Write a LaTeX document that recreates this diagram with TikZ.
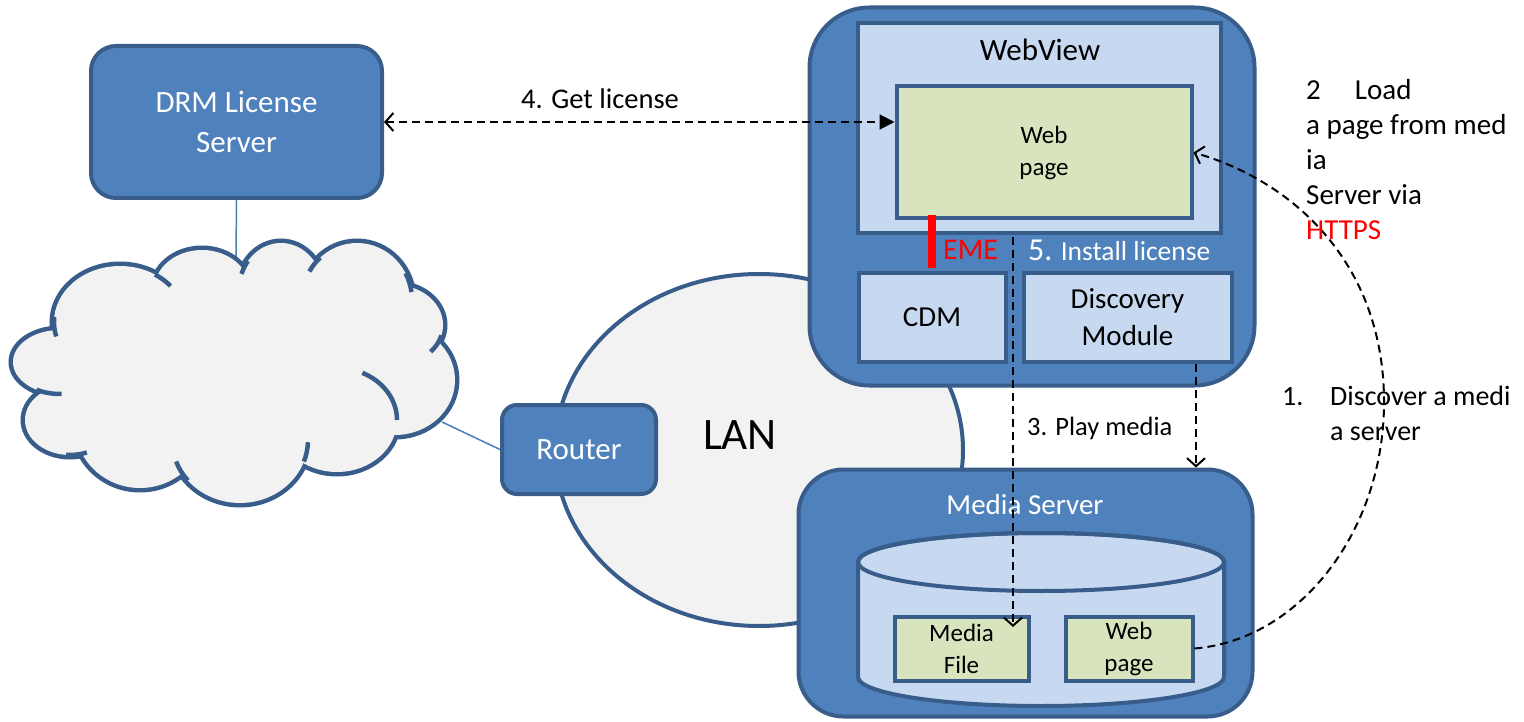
\documentclass[tikz,border=0pt]{standalone}
\usepackage{fontspec}
\setmainfont{Carlito}
\usetikzlibrary{arrows.meta,shapes.geometric}
\definecolor{bluefill}{HTML}{4F81BD}
\definecolor{blueline}{HTML}{385D8A}
\definecolor{lightfill}{HTML}{C6D9F1}
\definecolor{greenfill}{HTML}{D7E4BD}
\definecolor{cloudfill}{HTML}{F2F2F2}
\definecolor{thinblue}{HTML}{4A7EBB}
\newcommand\cloudtail[6]{\draw[blueline, line width=4.5pt] (#1,#2) ++(#5:#3 and #4) arc[start angle=#5, end angle=#6, x radius=#3, y radius=#4];}
\begin{document}
\begin{tikzpicture}[x=1pt,y=-1pt,
  box/.style={draw=blueline, line width=4pt, fill=bluefill, rounded corners=#1, text=white, inner sep=2pt},
  box/.default=20pt,
  lightbox/.style={draw=blueline, line width=4pt, fill=lightfill, inner sep=2pt},
  greenbox/.style={draw=blueline, line width=4pt, fill=greenfill, inner sep=2pt},
  dashline/.style={draw=black, line width=2pt, dash pattern=on 8pt off 5pt},
  thinline/.style={draw=thinblue, line width=1.5pt},
  openarrow/.tip={Straight Barb[length=8pt,width=18pt,line width=2pt]},
  fullarrow/.tip={Triangle[length=15pt,width=15pt]}
]
\useasboundingbox (0,0) rectangle (1524,722);

% DRM license server
\node[box=25pt, minimum width=291pt, minimum height=152pt, align=center, font=\fontsize{31}{40}\selectfont] (drm) at (236.5,122) {DRM License\\Server};
\coordinate (cloudtop) at (236,258);
\draw[thinline] (drm.south) -- (cloudtop);

% cloud
\foreach \cx/\cy/\rx/\ry in {60/362/47/32, 120/322/66/56, 202/290/48/40, 281/290/42/47, 357/300/55/57, 395/325/48/40, 395/380/60/55, 337/420/60/52, 240/440/68/63, 140/425/65/63, 70/420/45/35}
  \draw[blueline, line width=9pt] (\cx,\cy) ellipse [x radius=\rx, y radius=\ry];
\foreach \cx/\cy/\rx/\ry in {60/362/47/32, 120/322/66/56, 202/290/48/40, 281/290/42/47, 357/300/55/57, 395/325/48/40, 395/380/60/55, 337/420/60/52, 240/440/68/63, 140/425/65/63, 70/420/45/35}
  \fill[cloudfill] (\cx,\cy) ellipse [x radius=\rx, y radius=\ry];
\fill[cloudfill] (235,370) ellipse [x radius=180, y radius=100];
\cloudtail{60}{362}{47}{32}{120}{88}
\cloudtail{120}{322}{66}{56}{165}{185}
\cloudtail{120}{322}{66}{56}{-58}{-40}
\cloudtail{281}{290}{42}{47}{218}{200}
\cloudtail{357}{300}{55}{57}{228}{210}
\cloudtail{357}{300}{55}{57}{-28}{-8}
\cloudtail{395}{325}{48}{40}{15}{42}
\cloudtail{337}{420}{60}{52}{-65}{0}
\cloudtail{240}{440}{68}{63}{20}{2}
\cloudtail{240}{440}{68}{63}{140}{160}
\cloudtail{70}{420}{45}{35}{95}{68}

% LAN
\node[ellipse, draw=blueline, line width=4pt, fill=cloudfill, minimum width=408pt, minimum height=352pt] (lan) at (759,450) {};
\node[font=\fontsize{45}{54}\selectfont] (lanlabel) at (740,435) {LAN};

% router
\node[box=15pt, minimum width=154pt, minimum height=89pt, font=\fontsize{31}{37}\selectfont] (router) at (579,449.5) {Router};
\coordinate (cloudright) at (442,422);
\draw[thinline] (cloudright) -- (router.west);

% WebView
\node[box=60pt, minimum width=445pt, minimum height=378pt] (wv) at (1032,196.5) {};
\node[lightbox, minimum width=363pt, minimum height=210pt] (wvin) at (1039,128.5) {};
\node[font=\fontsize{31}{37}\selectfont] (wvlabel) at (1040,50) {WebView};
\node[greenbox, minimum width=295pt, minimum height=132pt, align=center, font=\fontsize{25}{32}\selectfont] (wpage) at (1044,152.5) {Web\\page};
\node[lightbox, minimum width=147pt, minimum height=88pt, font=\fontsize{29}{35}\selectfont] (cdm) at (932,317.5) {CDM};
\node[lightbox, minimum width=208pt, minimum height=88pt, align=center, font=\fontsize{29}{37}\selectfont] (disc) at (1127.5,317.5) {Discovery\\Module};
\draw[red, line width=8pt] ([yshift=5pt]cdm.north |- wpage.south) -- ([yshift=3pt]cdm.north);
\node[anchor=west, inner sep=0pt, text=red, font=\fontsize{30}{36}\selectfont] (eme) at (943,250) {EME};
\node[anchor=west, inner sep=0pt, text=white, font=\fontsize{27.5}{33}\selectfont] (install) at (1028,250) {{\fontsize{32}{36}\selectfont 5.} Install license};

% Media server
\node[box=45pt, minimum width=454pt, minimum height=247pt] (ms) at (1025.5,593) {};
\node[text=white, font=\fontsize{29}{35}\selectfont] (mslabel) at (1025,505) {Media Server};
\filldraw[fill=lightfill, draw=blueline, line width=4pt] (858,562) -- (858,677) arc[start angle=180, end angle=0, x radius=183, y radius=29] -- (1224,562) arc[start angle=0, end angle=-180, x radius=183, y radius=29] -- cycle;
\draw[blueline, line width=4pt] (1041,562) ellipse [x radius=183, y radius=29];
\node[greenbox, minimum width=134pt, minimum height=64pt, align=center, font=\fontsize{25}{32}\selectfont] (mfile) at (961.5,648.5) {Media\\File};
\node[greenbox, minimum width=127pt, minimum height=64pt, align=center, font=\fontsize{25}{32}\selectfont] (spage) at (1129,648.5) {Web\\page};

% connectors
\draw[dashline, openarrow-fullarrow] (drm.east) -- (drm.east -| wpage.west);
\node[font=\fontsize{28.5}{34}\selectfont] (getlic) at (600,99) {4. Get license};

\coordinate (playtop) at (1013,237);
\coordinate (playend) at (1013,627);
\draw[dashline, -openarrow] (playtop) -- (playend);
\node[anchor=west, inner sep=0pt, font=\fontsize{26.5}{32}\selectfont] (play) at (1027,428) {3. Play media};

\coordinate (discbot) at (1196,364);
\draw[dashline, -openarrow] (discbot) -- (discbot |- ms.north);

\draw[dashline, -openarrow] (spage.east) .. controls (1300,640) and (1385,530) .. (1384,400) .. controls (1383,260) and (1290,180) .. (wpage.east);

\node[anchor=base west, inner sep=0pt, font=\fontsize{29}{35}\selectfont] (loadtxt) at (1306,100) {\begin{tabular}[t]{@{}l@{}}2\hspace{34pt}Load\\a page from med\\ia\\Server via\\\textcolor{red}{HTTPS}\end{tabular}};
\node[anchor=base west, inner sep=0pt, font=\fontsize{28}{35}\selectfont] (disctxt) at (1282,405) {\begin{tabular}[t]{@{}l@{}}\makebox[48pt][l]{1.}Discover a medi\\\hspace*{48pt}a server\end{tabular}};
\end{tikzpicture}
\end{document}
